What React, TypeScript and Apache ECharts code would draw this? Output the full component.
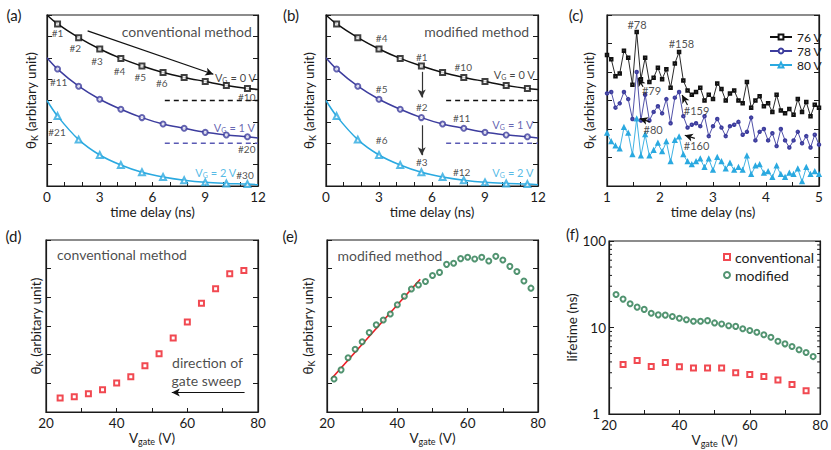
import React, { useEffect, useRef } from "react";
import * as echarts from "echarts";

const FONT = "Lato, 'Noto Sans', 'DejaVu Sans', sans-serif";
const INK = "#1a1a1a";
const BLACK = "#111111";
const BLUE = "#3d3d9e";
const BLUE_DASH = "#5a5ab4";
const CYAN = "#2aa9e0";
const RED = "#ee1c25";
const GREEN = "#27794d";

// ---------- (a)/(b) decay traces ----------
const delayTimes = [0.6, 1.8, 3.0, 4.2, 5.4, 6.6, 7.8, 9.0, 10.2, 11.4];
const decay0V = [7.58, 6.94, 6.41, 5.97, 5.61, 5.31, 5.08, 4.89, 4.7, 4.56];
const decay1V = [5.47, 4.67, 4.06, 3.59, 3.2, 2.9, 2.7, 2.51, 2.39, 2.3];
const decay2V = [3.27, 2.17, 1.45, 0.98, 0.64, 0.42, 0.27, 0.17, 0.12, 0.09];
const fitStartTime = 0;
const fitEndTime = 12;
const fitStart = [8, 6, 4];
const fitEnd = [4.52, 2.25, 0.06];
const baselineLevels = [4, 2];
const baselineFrom = [6.7, 6.8];

// ---------- (c) noisy traces ----------
const scanTimes = [
  1.0, 1.08, 1.16, 1.24, 1.32, 1.4, 1.48, 1.56, 1.64, 1.72, 1.8, 1.88, 1.96, 2.04, 2.12, 2.2, 2.28,
  2.36, 2.44, 2.52, 2.6, 2.68, 2.76, 2.84, 2.92, 3.0, 3.08, 3.16, 3.24, 3.32, 3.4, 3.48, 3.56, 3.64,
  3.72, 3.8, 3.88, 3.96, 4.04, 4.12, 4.2, 4.28, 4.36, 4.44, 4.52, 4.6, 4.68, 4.76, 4.84, 4.92, 5.0,
];
const trace76V = [
  4.6, 4.45, 3.85, 3.95, 4.75, 4.5, 3.55, 5.4, 3.75, 4.5, 3.65, 3.8, 4.15, 3.75, 4.1, 3.45, 4.3, 4.7,
  3.7, 3.35, 3.2, 3.3, 3.45, 3.0, 3.2, 3.05, 3.6, 3.4, 3.0, 3.25, 3.35, 3.0, 2.9, 3.65, 2.75, 3.0,
  3.15, 2.8, 2.9, 2.6, 3.2, 2.65, 2.55, 2.7, 2.5, 3.05, 2.6, 2.95, 2.45, 2.85, 2.75,
];
const trace78V = [
  3.25, 3.3, 2.75, 2.9, 3.3, 3.05, 2.35, 4.0, 2.3, 3.2, 2.3, 2.6, 2.8, 2.55, 3.05, 2.2, 3.1, 3.3,
  2.45, 2.05, 2.15, 2.2, 2.1, 2.45, 1.75, 2.1, 2.35, 2.05, 1.75, 2.1, 2.15, 2.25, 1.8, 1.9, 2.4, 1.6,
  1.9, 2.0, 1.6, 1.85, 1.4, 2.0, 1.6, 1.35, 1.6, 1.9, 1.5, 1.75, 1.35, 1.8, 1.45,
];
const trace80V = [
  1.85, 1.55, 1.4, 1.3, 2.05, 1.85, 1.1, 2.35, 1.05, 1.8, 1.05, 1.25, 1.5, 1.2, 1.55, 0.85, 1.6,
  1.72, 1.1, 0.85, 0.75, 0.85, 0.95, 0.65, 0.95, 0.55, 1.0, 0.85, 0.6, 0.8, 0.55, 0.65, 0.55, 1.05,
  0.4, 0.7, 0.75, 0.45, 0.5, 0.3, 0.7, 0.4, 0.3, 0.45, 0.4, 0.6, 0.15, 0.65, 0.4, 0.5, 0.4,
];
const traceNames = ["76 V", "78 V", "80 V"];

// ---------- (d) conventional ----------
const gateConv = [24, 28, 32, 36, 40, 44, 48, 52, 56, 60, 64, 68, 72, 76];
const kerrConv = [0.49, 0.53, 0.64, 0.78, 1.01, 1.23, 1.61, 2.03, 2.58, 3.14, 3.79, 4.3, 4.82, 4.94];

// ---------- (e) modified ----------
const gateMod = [
  22, 24, 26, 28, 30, 32, 34, 36, 38, 40, 42, 44, 46, 48, 50, 52, 54, 56, 58, 60, 62, 64, 66, 68, 70,
  72, 74, 76, 78,
];
const kerrMod = [
  1.15, 1.47, 1.89, 2.19, 2.45, 2.77, 3.04, 3.21, 3.42, 3.74, 4.04, 4.29, 4.43, 4.55, 4.76, 4.87,
  5.15, 5.19, 5.35, 5.4, 5.34, 5.4, 5.27, 5.43, 5.3, 5.08, 4.9, 4.57, 4.32,
];
const linearFitGate = [21.2, 46.5];
const linearFitKerr = [1.15, 4.63];

// ---------- (f) lifetimes ----------
const lifeConv = [3.73, 4.15, 3.53, 3.94, 3.51, 3.41, 3.41, 3.41, 2.99, 2.86, 2.71, 2.48, 2.19, 1.86];
const lifeMod = [
  24.1, 21.3, 18.8, 17.2, 16.2, 14.6, 14.0, 13.9, 13.4, 12.8, 12.3, 11.8, 11.8, 12.0, 11.3, 11.0,
  10.5, 10.3, 9.66, 9.23, 8.82, 8.23, 7.72, 6.94, 6.47, 6.03, 5.52, 5.13, 4.61,
];
const logMinorTicks = [2, 3, 4, 5, 6, 7, 8, 9, 20, 30, 40, 50, 60, 70, 80, 90];

// ---------- annotations [text, x, y] ----------
const annotA: [string, number, number][] = [
  ["#1", 0.6, 7.17], ["#2", 1.61, 6.47], ["#3", 2.84, 5.86], ["#4", 4.12, 5.39], ["#5", 5.3, 5.11],
  ["#6", 6.53, 4.8], ["#10", 11.36, 4.17], ["#11", 0.66, 4.87], ["#20", 11.36, 1.72],
  ["#21", 0.57, 2.53], ["#30", 11.26, 0.5],
];
const annotB: [string, number, number][] = [
  ["#4", 3.15, 6.94], ["#1", 5.42, 6.05], ["#10", 7.77, 5.58], ["#5", 3.15, 4.56], ["#2", 5.42, 3.7],
  ["#11", 7.68, 3.16], ["#6", 3.15, 2.14], ["#3", 5.42, 1.12], ["#12", 7.68, 0.65],
];
const annotC: [string, number, number][] = [
  ["#78", 1.567, 5.65], ["#158", 2.405, 5.0], ["#79", 1.84, 3.34], ["#80", 1.87, 1.98],
  ["#159", 2.69, 2.66], ["#160", 2.69, 1.43],
];
const vgLabelsA: [string, number, number][] = [
  ["V{s|G} = 0 V", 10.72, 5.08], ["V{s|G} = 1 V", 10.66, 2.76], ["V{s|G} = 2 V", 9.6, 0.61],
];
const vgLabelsB: [string, number, number][] = [
  ["V{s|G} = 0 V", 10.66, 5.23], ["V{s|G} = 1 V", 10.58, 2.88], ["V{s|G} = 2 V", 10.58, 0.61],
];
// arrows [x1, y1, x2, y2, curveness]
const arrowsA = [[2.31, 7.26, 9.46, 5.23, -0.1]];
const arrowsB = [[5.42, 5.34, 5.42, 4.14, 0], [5.42, 2.84, 5.42, 1.44, 0]];
const arrowsC = [
  [1.68, 3.48, 1.586, 3.78, 0], [1.807, 2.25, 1.618, 2.37, 0],
  [2.519, 2.84, 2.417, 3.19, 0], [2.657, 1.67, 2.468, 1.78, 0],
];
const arrowsD = [[76.2, 0.68, 55.6, 0.68, 0]];

const GRIDS = [
  { left: 47, top: 15, width: 211, height: 171 },
  { left: 326, top: 15, width: 212, height: 171 },
  { left: 607, top: 15, width: 212, height: 171 },
  { left: 46, top: 240, width: 212, height: 172 },
  { left: 327, top: 240, width: 211, height: 172 },
  { left: 609, top: 241, width: 213, height: 173 },
];
const PANEL_LETTERS: [string, number, number][] = [
  ["(a)", 14, 15], ["(b)", 291, 15], ["(c)", 576, 15],
  ["(d)", 13.5, 236], ["(e)", 290, 236], ["(f)", 572.5, 234],
];

const subRich = { s: { fontSize: 9, fontFamily: FONT, color: INK, padding: [7, 0, 0, 0] } };

function xAxisOf(g: number, min: number, max: number, interval: number, every: number, name: string, nameGap: number) {
  return {
    type: "value", gridIndex: g, min, max, interval,
    axisLine: { show: true, lineStyle: { color: INK, width: 1.2 } },
    axisTick: { show: true, inside: true, length: 4, lineStyle: { color: INK, width: 1 } },
    splitLine: { show: false },
    axisLabel: {
      color: INK, fontFamily: FONT, fontSize: 13.5, margin: 4, showMinLabel: true, showMaxLabel: true,
      formatter: (v: number) => (Math.abs(v / every - Math.round(v / every)) < 1e-6 ? String(Math.round(v * 100) / 100) : ""),
    },
    name, nameLocation: "middle", nameGap,
    nameTextStyle: { color: INK, fontFamily: FONT, fontSize: 13.5, rich: subRich },
  };
}
function yAxesOf(g: number, opts: any, name: string, nameGap: number, showLabels = false) {
  const base = {
    gridIndex: g,
    axisLine: { show: true, lineStyle: { color: INK, width: 1.2 } },
    axisTick: { show: true, inside: true, length: 5, lineStyle: { color: INK, width: 1 } },
    splitLine: { show: false },
    ...opts,
  };
  return [
    {
      ...base, position: "left",
      axisLabel: {
        show: showLabels, color: INK, fontFamily: FONT, fontSize: 13.5, margin: 3,
        formatter: (v: number) => (Math.abs(v - 1) < 1e-9 ? "{one|1}" : String(v)),
        rich: { one: { fontSize: 13.5, fontFamily: FONT, color: INK, padding: [0, 6, 0, 0] } },
      },
      name, nameLocation: "middle", nameGap, nameRotate: 90,
      nameTextStyle: { color: INK, fontFamily: FONT, fontSize: 13.5, rich: subRich },
    },
    { ...base, position: "right", axisLabel: { show: false } },
  ];
}

function annotations(g: number, items: [string, number, number][], color: string, fontSize: number, arrows: number[][] = [], arrowColor = INK, rich: any = undefined) {
  return {
    type: "scatter", xAxisIndex: g, yAxisIndex: g * 2, symbolSize: 1, silent: true, z: 6,
    itemStyle: { color: "transparent" },
    label: {
      show: true, position: "inside", formatter: "{b}", color, fontFamily: FONT, fontSize,
      rich,
    },
    data: items.map(([t, x, y]) => ({ name: t, value: [x, y] })),
    markLine: arrows.length
      ? {
          silent: true, symbol: ["none", "arrow"], symbolSize: [6, 8], label: { show: false },
          lineStyle: { color: arrowColor, width: 1.2, type: "solid" },
          emphasis: { disabled: true },
          data: arrows.map(([x1, y1, x2, y2, c]) => [
            { coord: [x1, y1], lineStyle: { curveness: c, color: arrowColor, width: 1.2, type: "solid" } },
            { coord: [x2, y2] },
          ]),
        }
      : undefined,
  };
}

function decayPanel(g: number) {
  const sets = [
    { vals: decay0V, color: BLACK, symbol: "emptyRect", size: 5 },
    { vals: decay1V, color: BLUE, symbol: "emptyCircle", size: 5 },
    { vals: decay2V, color: CYAN, symbol: "emptyTriangle", size: 6 },
  ];
  const out: any[] = [];
  sets.forEach((s, k) => {
    out.push({
      type: "line", xAxisIndex: g, yAxisIndex: g * 2, smooth: 0.35, symbol: "none", silent: true,
      lineStyle: { color: s.color, width: 1.5 },
      data: [[fitStartTime, fitStart[k]], ...delayTimes.map((t, i) => [t, s.vals[i]]), [fitEndTime, fitEnd[k]]],
    });
    out.push({
      type: "scatter", xAxisIndex: g, yAxisIndex: g * 2, symbol: s.symbol,
      symbolSize: s.size, silent: true, z: 4,
      itemStyle: { color: s.color, borderWidth: 1.2 },
      data: delayTimes.map((t, i) => [t, s.vals[i]]),
    });
  });
  const dashColors = [BLACK, BLUE_DASH];
  baselineLevels.forEach((lv, k) => {
    out.push({
      type: "line", xAxisIndex: g, yAxisIndex: g * 2, symbol: "none", silent: true,
      lineStyle: { color: dashColors[k], width: 1.4, type: [5, 4] },
      data: [[g === 0 ? baselineFrom[0] : baselineFrom[1], lv], [fitEndTime, lv]],
    });
  });
  return out;
}

function buildOption() {
  const xAxes = [
    xAxisOf(0, 0, 12, 1, 3, "time delay (ns)", 19),
    xAxisOf(1, 0, 12, 1, 3, "time delay (ns)", 19),
    xAxisOf(2, 1, 5, 0.5, 1, "time delay (ns)", 19),
    xAxisOf(3, 20, 80, 10, 20, "V{s|gate} (V)", 18),
    xAxisOf(4, 20, 80, 10, 20, "V{s|gate} (V)", 18),
    xAxisOf(5, 20, 80, 10, 20, "V{s|gate} (V)", 18),
  ];
  const thetaName = "θ{s|K} (arbitary unit)";
  const yAxes = [
    ...yAxesOf(0, { type: "value", min: 0, max: 8, interval: 1 }, thetaName, 8),
    ...yAxesOf(1, { type: "value", min: 0, max: 8, interval: 1 }, thetaName, 9),
    ...yAxesOf(2, { type: "value", min: 0, max: 6, interval: 1 }, thetaName, 10),
    ...yAxesOf(3, { type: "value", min: 0, max: 6, interval: 1 }, thetaName, 2),
    ...yAxesOf(4, { type: "value", min: 0, max: 6, interval: 1 }, thetaName, 11),
    ...yAxesOf(5, { type: "log", logBase: 10, min: 1, max: 100 }, "lifetime (ns)", 27, true),
  ];

  const series: any[] = [];
  series.push(...decayPanel(0), ...decayPanel(1));

  // (c)
  const cStyles = [
    { vals: trace76V, color: BLACK, symbol: "emptyRect", size: 2.5 },
    { vals: trace78V, color: BLUE, symbol: "emptyCircle", size: 2.5 },
    { vals: trace80V, color: CYAN, symbol: "emptyTriangle", size: 3 },
  ];
  cStyles.forEach((s, k) => {
    series.push({
      type: "line", name: traceNames[k], xAxisIndex: 2, yAxisIndex: 4, symbol: s.symbol, symbolSize: s.size,
      showAllSymbol: true, silent: true,
      lineStyle: { color: s.color, width: 0.9 }, itemStyle: { color: s.color, borderWidth: 0.8 },
      data: scanTimes.map((t, i) => [t, s.vals[i]]),
    });
  });

  // (d)
  series.push({
    type: "scatter", xAxisIndex: 3, yAxisIndex: 6, symbol: "emptyRect", symbolSize: 5, silent: true,
    itemStyle: { color: RED, borderWidth: 1.2 },
    data: gateConv.map((v, i) => [v, kerrConv[i]]),
  });
  // (e)
  series.push({
    type: "line", xAxisIndex: 4, yAxisIndex: 8, symbol: "none", silent: true,
    lineStyle: { color: RED, width: 1.6 },
    data: linearFitGate.map((v, i) => [v, linearFitKerr[i]]),
  });
  series.push({
    type: "scatter", xAxisIndex: 4, yAxisIndex: 8, symbol: "emptyCircle", symbolSize: 5, silent: true, z: 4,
    itemStyle: { color: GREEN, borderWidth: 1.2 },
    data: gateMod.map((v, i) => [v, kerrMod[i]]),
  });
  // (f)
  series.push({
    type: "scatter", name: "conventional", xAxisIndex: 5, yAxisIndex: 10, symbol: "emptyRect", symbolSize: 5,
    silent: true, itemStyle: { color: RED, borderWidth: 1.2 },
    data: gateConv.map((v, i) => [v, lifeConv[i]]),
  });
  series.push({
    type: "scatter", name: "modified", xAxisIndex: 5, yAxisIndex: 10, symbol: "emptyCircle", symbolSize: 5,
    silent: true, itemStyle: { color: GREEN, borderWidth: 1.2 },
    data: gateMod.map((v, i) => [v, lifeMod[i]]),
  });
  series.push({
    type: "custom", xAxisIndex: 5, yAxisIndex: 10, silent: true, z: 3,
    data: logMinorTicks.map((v) => [20, v]),
    renderItem: (_p: any, api: any) => {
      const v = api.value(1);
      const l = api.coord([20, v]);
      const r = api.coord([80, v]);
      return {
        type: "group",
        children: [
          { type: "line", shape: { x1: l[0], y1: l[1], x2: l[0] + 3, y2: l[1] }, style: { stroke: INK, lineWidth: 1 } },
          { type: "line", shape: { x1: r[0] - 3, y1: r[1], x2: r[0], y2: r[1] }, style: { stroke: INK, lineWidth: 1 } },
        ],
      };
    },
  });

  // annotations
  const vgS = { fontSize: 7, fontFamily: FONT, padding: [5, 0, 0, 0] };
  series.push(annotations(0, annotA, "#222", 10, arrowsA, BLACK));
  series.push(annotations(0, [["conventional method", 7.95, 7.25]], INK, 14));
  series.push(annotations(0, [vgLabelsA[0]], BLACK, 11, [], INK, { s: { ...vgS, color: BLACK } }));
  series.push(annotations(0, [vgLabelsA[1]], BLUE, 11, [], INK, { s: { ...vgS, color: BLUE } }));
  series.push(annotations(0, [vgLabelsA[2]], CYAN, 11, [], INK, { s: { ...vgS, color: CYAN } }));

  series.push(annotations(1, annotB, "#222", 10, arrowsB, "#333"));
  series.push(annotations(1, [["modified method", 8.53, 7.25]], INK, 14));
  series.push(annotations(1, [vgLabelsB[0]], BLACK, 11, [], INK, { s: { ...vgS, color: BLACK } }));
  series.push(annotations(1, [vgLabelsB[1]], BLUE, 11, [], INK, { s: { ...vgS, color: BLUE } }));
  series.push(annotations(1, [vgLabelsB[2]], CYAN, 11, [], INK, { s: { ...vgS, color: CYAN } }));

  series.push(annotations(2, annotC, "#222", 11, arrowsC, BLACK));

  series.push(annotations(3, [["conventional method", 41.5, 5.5], ["direction of", 65.7, 1.73], ["gate sweep", 65.4, 1.1]], INK, 14, arrowsD, BLACK));
  series.push(annotations(4, [["modified method", 37.9, 5.47]], INK, 14));

  return {
    animation: false,
    backgroundColor: "#ffffff",
    textStyle: { fontFamily: FONT },
    grid: GRIDS.map((g) => ({ ...g, show: true, borderColor: INK, borderWidth: 1.2, backgroundColor: "transparent" })),
    xAxis: xAxes,
    yAxis: yAxes,
    legend: [
      {
        data: traceNames, left: 764, top: 26, orient: "vertical", itemWidth: 22, itemHeight: 6, itemGap: 2,
        textStyle: { color: INK, fontFamily: FONT, fontSize: 12, lineHeight: 12 }, selectedMode: false,
      },
      {
        data: ["conventional", "modified"], left: 718, top: 244, orient: "vertical", itemWidth: 6, itemHeight: 6,
        itemGap: 2, textStyle: { color: INK, fontFamily: FONT, fontSize: 14, lineHeight: 16 }, selectedMode: false,
      },
    ],
    graphic: PANEL_LETTERS.map(([t, x, y]) => ({
      type: "text", x, y, silent: true,
      style: { text: t, fill: INK, fontFamily: FONT, fontSize: 15, textAlign: "center", textVerticalAlign: "middle" },
    })),
    series,
  };
}

export default function App() {
  const ref = useRef<HTMLDivElement>(null);
  useEffect(() => {
    if (!ref.current) return;
    const chart = echarts.init(ref.current, undefined, { renderer: "svg" });
    chart.setOption(buildOption() as any);
    return () => chart.dispose();
  }, []);
  return (
    <div
      ref={ref}
      style={{ position: "fixed", left: 0, top: 0, width: 831, height: 450, background: "#fff" }}
    />
  );
}
